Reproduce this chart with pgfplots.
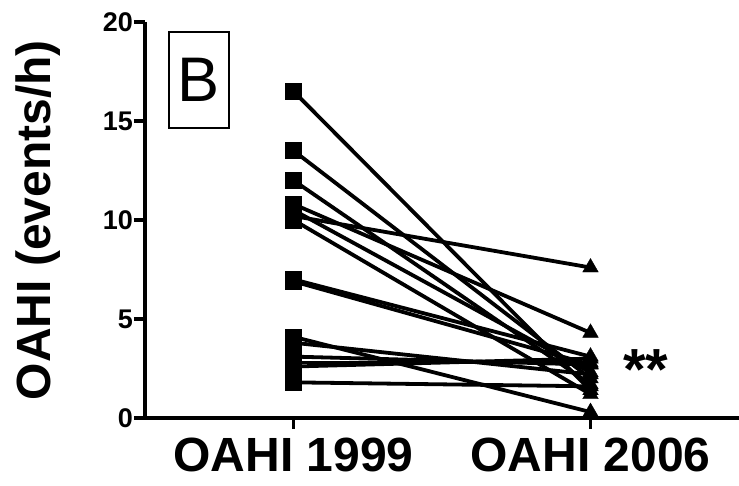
\documentclass[border=0pt]{standalone}
\usepackage{fontspec}
\setmainfont{Liberation Sans}
\usepackage{pgfplots}
\pgfplotsset{compat=1.18}
\begin{document}
\begin{tikzpicture}
\useasboundingbox (-145pt,-68pt) rectangle (594pt,418pt);
\begin{axis}[
  at={(0,0)}, anchor=south west,
  scale only axis, width=594pt, height=396pt,
  xmin=-0.5, xmax=1.5, ymin=0, ymax=20,
  axis lines=left, axis line style={-, line width=3.8pt, black},
  clip=false,
  xtick={0,1}, xticklabels={OAHI 1999, OAHI 2006},
  ytick={0,5,10,15,20},
  tick align=outside, major tick length=11pt,
  every tick/.style={black, line width=3.8pt},
  /pgf/number format/assume math mode=true,
  yticklabel style={font=\bfseries\fontsize{27}{27}\selectfont, inner sep=1pt},
  xticklabel style={font=\bfseries\fontsize{48}{48}\selectfont, inner sep=2pt, yshift=-7pt},
  ylabel={OAHI (events/h)},
  ylabel style={font=\bfseries\fontsize{48}{48}\selectfont, at={(rel axis cs:0,0.5)}, anchor=center, rotate=0, yshift=107pt},
]
\addplot[black, line width=3.8pt, no marks] coordinates {(0,16.5) (1,1.4)};
\addplot[black, line width=3.8pt, no marks] coordinates {(0,13.5) (1,2.0)};
\addplot[black, line width=3.8pt, no marks] coordinates {(0,12.0) (1,1.7)};
\addplot[black, line width=3.8pt, no marks] coordinates {(0,10.8) (1,4.3)};
\addplot[black, line width=3.8pt, no marks] coordinates {(0,10.5) (1,2.3)};
\addplot[black, line width=3.8pt, no marks] coordinates {(0,10.2) (1,7.6)};
\addplot[black, line width=3.8pt, no marks] coordinates {(0,10.0) (1,1.2)};
\addplot[black, line width=3.8pt, no marks] coordinates {(0,7.0) (1,3.1)};
\addplot[black, line width=3.8pt, no marks] coordinates {(0,6.9) (1,2.7)};
\addplot[black, line width=3.8pt, no marks] coordinates {(0,4.1) (1,0.3)};
\addplot[black, line width=3.8pt, no marks] coordinates {(0,3.8) (1,2.2)};
\addplot[black, line width=3.8pt, no marks] coordinates {(0,3.1) (1,2.7)};
\addplot[black, line width=3.8pt, no marks] coordinates {(0,2.8) (1,2.8)};
\addplot[black, line width=3.8pt, no marks] coordinates {(0,2.6) (1,3.0)};
\addplot[black, line width=3.8pt, no marks] coordinates {(0,1.8) (1,1.6)};
\addplot[only marks, mark=square*, mark size=8pt, black] coordinates {
 (0,16.5) (0,13.5) (0,12.0) (0,10.8) (0,10.5) (0,10.2) (0,10.0) (0,7.0) (0,6.9)
 (0,4.1) (0,3.8) (0,3.1) (0,2.8) (0,2.6) (0,1.8)};
\addplot[only marks, mark=triangle*, mark size=9pt, black] coordinates {
 (1,1.4) (1,2.0) (1,1.7) (1,4.3) (1,2.3) (1,7.6) (1,1.2) (1,3.1) (1,2.7)
 (1,0.3) (1,2.2) (1,2.7) (1,2.8) (1,3.0) (1,1.6)};
\end{axis}
\node[draw, line width=1.3pt, minimum width=60pt, minimum height=96pt, inner sep=0pt, font=\fontsize{63}{63}\selectfont] at (54pt,338pt) {B};
\node[anchor=base, inner sep=0pt, font=\bfseries\fontsize{58}{58}\selectfont] at (501pt,28pt) {**};
\end{tikzpicture}
\end{document}
